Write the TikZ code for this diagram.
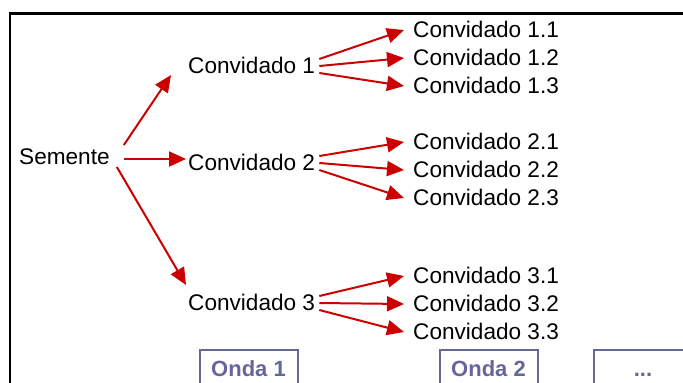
\documentclass[tikz,border=0pt]{standalone}
\usepackage{fontspec}
\setmainfont{Liberation Sans}
\usetikzlibrary{arrows.meta}
\definecolor{seta}{RGB}{204,0,0}
\definecolor{onda}{RGB}{102,102,153}
\tikzset{
    guest/.style={anchor=west, inner sep=0pt, font=\fontsize{22.6}{27}\selectfont},
    link/.style={draw=seta, line width=2pt, -{Triangle[length=17pt,width=15pt]}},
    wave/.style={draw=onda, line width=2pt, text=onda, anchor=base, minimum width=98pt,
        text height=16pt, text depth=40pt, inner ysep=10pt, font=\fontsize{22}{26}\selectfont\bfseries}
}
\begin{document}
\begin{tikzpicture}[x=1pt, y=-1pt]
        \useasboundingbox (0,0) rectangle (683,383);
        \clip (0,0) rectangle (683,383);
        \fill[white] (0,0) rectangle (683,383);
        \draw[line width=2.2pt] (10,13.5) rectangle (720,420);
        \node[guest] (sem) at (19,157) {Semente};
        \foreach \i/\y/\z in {1/65/29,2/162/141,3/302/275} {
                \node[guest] (c\i) at (188,\y) {Convidado \i};
                \foreach \j in {1,2,3} {
                        \node[guest] (c\i\j) at (413,\z+28*\j-28) {Convidado \i.\j};
                        \draw[link] ([shift={(4,-13+7*\j)}]c\i.east) -- ([shift={(-9,1)}]c\i\j.west);
                    }
            }
        \draw[link] ([shift={(14,-12)}]sem.east) -- ([shift={(-17,10)}]c1.west);
        \draw[link] ([shift={(14,2)}]sem.east) -- ([shift={(-2,-3)}]c2.west);
        \draw[link] ([shift={(7,10)}]sem.east) -- ([shift={(-2,-17)}]c3.west);
        \node[wave] (w1) at (248.5,376) {Onda 1};
        \node[wave] (w2) at (488.5,376) {Onda 2};
        \node[wave] (w3) at (643,376) {...};
    \end{tikzpicture}
\end{document}
